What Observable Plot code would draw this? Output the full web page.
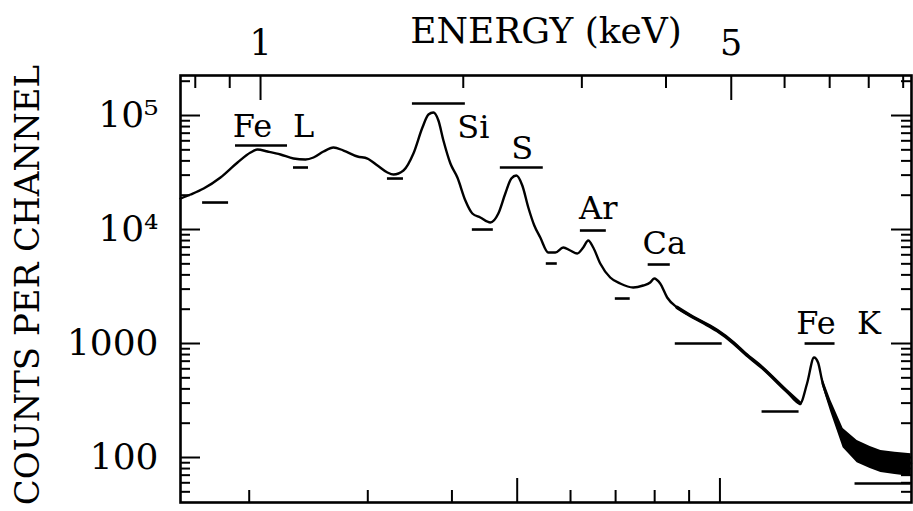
<!DOCTYPE html>
<html><head><meta charset="utf-8">
<script src="https://cdn.jsdelivr.net/npm/d3@7"></script>
<script src="https://cdn.jsdelivr.net/npm/@observablehq/plot@0.6"></script>
<style>
html,body{margin:0;padding:0;background:#fff;}
#chart{width:913px;height:511px;overflow:hidden;}
</style></head><body><div id="chart"></div>
<script>
// Spectrum (energy in keV, counts per channel)
const energy = [0.7606,0.7873,0.8233,0.8721,0.9244,0.9664,0.9898,1.0242,1.0707,1.1193,1.1661,1.1985,1.2402,1.2832,1.3280,1.3930,1.4414,1.4915,1.5433,1.5753,1.6302,1.6866,1.7394,1.7754,1.8060,1.8371,1.8688,1.9140,1.9603,2.0144,2.0631,2.1202,2.1939,2.2548,2.3093,2.3572,2.3978,2.4474,2.4981,2.5498,2.6026,2.6747,2.7394,2.8153,2.8834,2.9531,3.0143,3.0663,3.1191,3.1946,3.3056,3.4204,3.5757,3.7000,3.7894,3.8416,3.9212,4.0160,4.1557,4.3443,4.5416,4.7643,5.0317,5.2422,5.5555,6.0314,6.3264,6.4794,6.6362,6.7274,6.8203,7.0329,7.3280,7.6866,8.0356,8.3434,8.7528,9.2455];
const counts = [18700,20280,22880,28580,38700,47360,50330,48320,45500,41960,41120,42820,48320,52400,49320,43690,41960,36420,31620,30380,32930,46420,78460,102000,106200,90400,60370,37930,28580,17960,13820,12740,11520,13820,20700,28010,29760,24320,15600,10840,8510,6284,6284,6953,6545,6160,6953,8009,6953,5033,3793,3360,3099,3227,3428,3718,3360,2533,2070,1761,1529,1300,1020,817,616,387,298,446,754,681,474,275,150,115,104,96,92,89];

// Statistical scatter envelope of the high-energy tail
const noiseE  = [6.82, 7.03, 7.33, 7.69, 8.04, 8.34, 8.75, 9.25];
const noiseLo = [437, 248, 122, 90, 80, 74, 71, 68];
const noiseHi = [511, 316, 180, 141, 125, 115, 111, 108];

// Horizontal band markers: [E start, E end, counts]
const bandE1 = [0.8203, 0.9180, 1.1193, 1.5433, 1.6809, 2.0631, 2.2703, 2.6565, 2.9850, 3.3637, 3.7636, 4.1290, 5.5555, 6.4354, 7.6342];
const bandE2 = [0.8965, 1.0966, 1.1782, 1.6302, 2.0144, 2.2165, 2.6293, 2.7583, 3.2618, 3.5394, 4.0592, 4.8476, 6.3047, 7.1296, 9.25];
const bandC  = [17250, 54560, 34990, 28010, 127500, 10000, 34990, 5033, 9800, 2481, 4932, 1000, 253, 1000, 59.2];

// Line labels
const labelText = ["Fe", "L", "Si", "S", "Ar", "Ca", "Fe", "K"];
const labelE = [0.9730, 1.1583, 2.0701, 2.4475, 3.1728, 3.9753, 6.6817, 8.0083];
const labelC = [80090, 80090, 78000, 51350, 15290, 7539, 1498, 1498];

// Axes
const topMajor = [1, 5];
const topMinor = [0.8, 0.9, 2, 3, 4, 6, 7, 8, 9];
const keVPerChannel = 0.00481;
const channelMajor = [500, 1000];
const channelMinor = [200, 300, 400, 600, 700, 800, 900];
const yMajor = [100, 1000, 1e4, 1e5];
const yMajorLabels = ["100", "1000", "10⁴", "10⁵"];
const yMinor = [50,60,70,80,90,200,300,400,500,600,700,800,900,2000,3000,4000,5000,6000,7000,8000,9000,2e4,3e4,4e4,5e4,6e4,7e4,8e4,9e4,2e5];
const xTitle = "ENERGY (keV)";
const yTitle = "COUNTS PER CHANNEL";

const W = 913, H = 511, mL = 180, mT = 75, mR = 2, mB = 9;
const innerW = W - mL - mR, innerH = H - mT - mB;
const font = "DejaVu Serif";
const tk = {stroke: "black", strokeWidth: 2};

const curve = energy.map((e, i) => ({e, c: counts[i]}));
const noise = noiseE.map((e, i) => ({e, lo: noiseLo[i], hi: noiseHi[i]}));
const bands = bandE1.map((e1, i) => ({e1, e2: bandE2[i], c: bandC[i]}));
const labels = labelText.map((t, i) => ({t, e: labelE[i], c: labelC[i]}));

const plot = Plot.plot({
  width: W, height: H,
  marginLeft: mL, marginTop: mT, marginRight: mR, marginBottom: mB,
  style: {background: "white", fontFamily: font, color: "black"},
  x: {type: "log", domain: [0.7606, 9.26], axis: null},
  y: {type: "log", domain: [40.3, 224400], axis: null},
  marks: [
    Plot.areaY(noise, {x: "e", y1: "lo", y2: "hi", fill: "black", curve: "linear"}),
    Plot.line(curve, {x: "e", y: "c", stroke: "black", strokeWidth: 2.4, curve: "monotone-x"}),
    // the noisier high-energy continuum is drawn with a heavier stroke
    Plot.line(curve, {filter: d => d.e >= 4.1 && d.e <= 6.35, x: "e", y: "c", stroke: "black", strokeWidth: 3.6, curve: "monotone-x"}),
    Plot.ruleY(bands, {y: "c", x1: "e1", x2: "e2", stroke: "black", strokeWidth: 2.6, clip: true}),
    Plot.text(labels, {x: "e", y: "c", text: "t", fontSize: 32, fontFamily: font, fill: "black"}),
    // top ticks
    Plot.ruleX(topMinor, {...tk, insetBottom: innerH - 13}),
    Plot.ruleX(topMajor, {...tk, insetBottom: innerH - 25}),
    // bottom ticks (channels)
    Plot.ruleX(channelMinor.map(c => c * keVPerChannel), {...tk, insetTop: innerH - 12}),
    Plot.ruleX(channelMajor.map(c => c * keVPerChannel), {...tk, insetTop: innerH - 24}),
    // left/right ticks
    Plot.ruleY(yMinor, {...tk, insetRight: innerW - 10}),
    Plot.ruleY(yMajor, {...tk, insetRight: innerW - 20}),
    Plot.ruleY(yMinor, {...tk, insetLeft: innerW - 10}),
    Plot.ruleY(yMajor, {...tk, insetLeft: innerW - 20}),
    Plot.frame({stroke: "black", strokeWidth: 2.6}),
    // tick labels
    Plot.text(topMajor, {x: d => d, text: d => String(d), frameAnchor: "top", lineAnchor: "middle", dy: -32, fontSize: 35, fontFamily: font, fill: "black"}),
    Plot.text(yMajor, {y: d => d, text: (d, i) => yMajorLabels[i], frameAnchor: "left", textAnchor: "end", lineAnchor: "middle", dx: -22, fontSize: 36, fontFamily: font, fill: "black"}),
    // titles
    Plot.text([xTitle], {text: d => d, frameAnchor: "top", lineAnchor: "middle", textAnchor: "middle", dy: -44, fontSize: 36, fontFamily: font, fill: "black"}),
    Plot.text([yTitle], {text: d => d, frameAnchor: "left", textAnchor: "middle", lineAnchor: "middle", dx: -152, dy: -4, rotate: -90, fontSize: 34, fontFamily: font, fill: "black"})
  ]
});
document.getElementById("chart").appendChild(plot);
</script>
</body></html>
